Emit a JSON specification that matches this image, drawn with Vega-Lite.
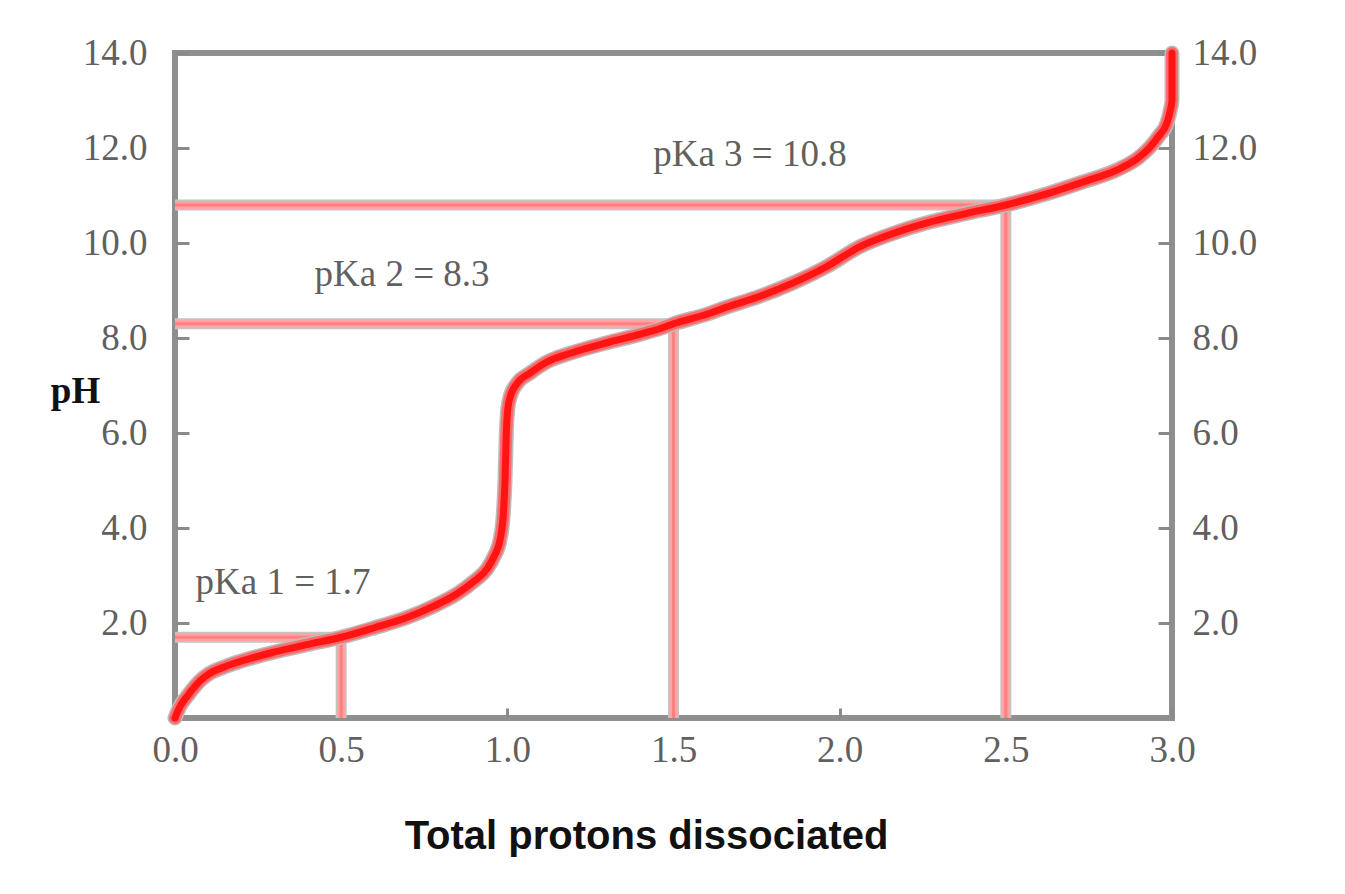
{
  "$schema": "https://vega.github.io/schema/vega-lite/v6.json",
  "width": 997,
  "height": 665,
  "autosize": {"type": "none"},
  "padding": {"left": 175, "top": 53, "right": 173, "bottom": 176},
  "background": "white",
  "config": {
    "view": {"stroke": "#8f8f8f", "strokeWidth": 6},
    "axis": {
      "domain": false,
      "grid": false,
      "tickColor": "#8a8a8a",
      "tickWidth": 3,
      "labelFont": "Liberation Serif",
      "labelFontSize": 37,
      "labelColor": "#606060",
      "titleFont": "Liberation Serif",
      "titleColor": "#111111"
    }
  },
  "datasets": {
    "curve": [
      {"i": 0, "x": 0.0, "pH": 0.0},
      {"i": 1, "x": 0.01, "pH": 0.17},
      {"i": 2, "x": 0.02, "pH": 0.3},
      {"i": 3, "x": 0.036, "pH": 0.45},
      {"i": 4, "x": 0.05, "pH": 0.58},
      {"i": 5, "x": 0.075, "pH": 0.78},
      {"i": 6, "x": 0.1, "pH": 0.92},
      {"i": 7, "x": 0.15, "pH": 1.08},
      {"i": 8, "x": 0.2, "pH": 1.2},
      {"i": 9, "x": 0.3, "pH": 1.39},
      {"i": 10, "x": 0.4, "pH": 1.55},
      {"i": 11, "x": 0.5, "pH": 1.7},
      {"i": 12, "x": 0.6, "pH": 1.9},
      {"i": 13, "x": 0.7, "pH": 2.12},
      {"i": 14, "x": 0.78, "pH": 2.36},
      {"i": 15, "x": 0.85, "pH": 2.62},
      {"i": 16, "x": 0.9, "pH": 2.88},
      {"i": 17, "x": 0.94, "pH": 3.15},
      {"i": 18, "x": 0.96, "pH": 3.4},
      {"i": 19, "x": 0.978, "pH": 3.75},
      {"i": 20, "x": 0.988, "pH": 4.3},
      {"i": 21, "x": 0.993, "pH": 5.0},
      {"i": 22, "x": 0.997, "pH": 6.0},
      {"i": 23, "x": 1.0, "pH": 6.4},
      {"i": 24, "x": 1.008, "pH": 6.75},
      {"i": 25, "x": 1.03, "pH": 7.05},
      {"i": 26, "x": 1.068, "pH": 7.26},
      {"i": 27, "x": 1.12, "pH": 7.5},
      {"i": 28, "x": 1.19, "pH": 7.68},
      {"i": 29, "x": 1.3, "pH": 7.9},
      {"i": 30, "x": 1.4, "pH": 8.08},
      {"i": 31, "x": 1.46, "pH": 8.2},
      {"i": 32, "x": 1.5, "pH": 8.3},
      {"i": 33, "x": 1.6, "pH": 8.5},
      {"i": 34, "x": 1.66, "pH": 8.65},
      {"i": 35, "x": 1.76, "pH": 8.88},
      {"i": 36, "x": 1.86, "pH": 9.16},
      {"i": 37, "x": 1.96, "pH": 9.5},
      {"i": 38, "x": 2.06, "pH": 9.92},
      {"i": 39, "x": 2.16, "pH": 10.2},
      {"i": 40, "x": 2.26, "pH": 10.42},
      {"i": 41, "x": 2.38, "pH": 10.62},
      {"i": 42, "x": 2.5, "pH": 10.8},
      {"i": 43, "x": 2.63, "pH": 11.05},
      {"i": 44, "x": 2.73, "pH": 11.28},
      {"i": 45, "x": 2.835, "pH": 11.54},
      {"i": 46, "x": 2.9, "pH": 11.8},
      {"i": 47, "x": 2.934, "pH": 12.02},
      {"i": 48, "x": 2.96, "pH": 12.25},
      {"i": 49, "x": 2.985, "pH": 12.53},
      {"i": 50, "x": 2.995, "pH": 12.8},
      {"i": 51, "x": 3.0, "pH": 13.0},
      {"i": 52, "x": 3.0, "pH": 14.0}
    ],
    "refs": [
      {"x": 0.0, "x2": 0.5, "pH": 1.7, "pH2": 1.7},
      {"x": 0.5, "x2": 0.5, "pH": 0.0, "pH2": 1.7},
      {"x": 0.0, "x2": 1.5, "pH": 8.3, "pH2": 8.3},
      {"x": 1.5, "x2": 1.5, "pH": 0.0, "pH2": 8.3},
      {"x": 0.0, "x2": 2.5, "pH": 10.8, "pH2": 10.8},
      {"x": 2.5, "x2": 2.5, "pH": 0.0, "pH2": 10.8}
    ],
    "labels": [
      {"x": 0.325, "pH": 2.84, "label": "pKa 1 = 1.7"},
      {"x": 0.683, "pH": 9.33, "label": "pKa 2 = 8.3"},
      {"x": 1.73, "pH": 11.85, "label": "pKa 3 = 10.8"}
    ]
  },
  "encoding": {
    "x": {
      "field": "x", "type": "quantitative",
      "scale": {"domain": [0, 3], "nice": false, "zero": false},
      "axis": {
        "orient": "bottom",
        "values": [0, 0.5, 1, 1.5, 2, 2.5, 3],
        "format": ".1f",
        "tickSize": -10,
        "labelPadding": 42,
        "labelBaseline": "middle",
        "labelFlush": false,
        "title": "Total protons dissociated",
        "titleFont": "Liberation Sans",
        "titleFontWeight": "bold",
        "titleFontSize": 40,
        "titleX": 471,
        "titleY": 130,
        "titleAlign": "center",
        "titleBaseline": "alphabetic"
      }
    }
  },
  "layer": [
    {
      "data": {"name": "refs"},
      "mark": {"type": "rule", "color": "#c4c4c4", "strokeWidth": 11},
      "encoding": {
        "x2": {"field": "x2"},
        "y": {
          "field": "pH", "type": "quantitative",
          "scale": {"domain": [0, 14], "nice": false},
          "axis": {
            "values": [2, 4, 6, 8, 10, 12, 14],
            "format": ".1f",
            "orient": "left",
            "tickSize": -14,
            "labelPadding": 42,
            "labelFlush": false,
            "title": "pH",
            "titleFontWeight": "bold",
            "titleFontSize": 37,
            "titleAngle": 0,
            "titleX": -100,
            "titleY": 349,
            "titleAlign": "center",
            "titleBaseline": "alphabetic"
          }
        },
        "y2": {"field": "pH2"}
      }
    },
    {
      "data": {"name": "refs"},
      "mark": {"type": "rule", "color": "#ffa3a3", "strokeWidth": 8},
      "encoding": {
        "x2": {"field": "x2"},
        "y": {"field": "pH", "type": "quantitative", "scale": {"domain": [0, 14], "nice": false}, "axis": null},
        "y2": {"field": "pH2"}
      }
    },
    {
      "data": {"name": "refs"},
      "mark": {"type": "rule", "color": "#ff8080", "strokeWidth": 3},
      "encoding": {
        "x2": {"field": "x2"},
        "y": {"field": "pH", "type": "quantitative", "scale": {"domain": [0, 14], "nice": false}, "axis": null},
        "y2": {"field": "pH2"}
      }
    },
    {
      "data": {"name": "curve"},
      "mark": {"type": "line", "color": "#bdbdbd", "strokeWidth": 15, "interpolate": "monotone", "strokeCap": "round"},
      "encoding": {
        "y": {"field": "pH", "type": "quantitative", "scale": {"domain": [0, 14], "nice": false}, "axis": null},
        "order": {"field": "i"}
      }
    },
    {
      "data": {"name": "curve"},
      "mark": {"type": "line", "color": "#ff6a6a", "strokeWidth": 12, "interpolate": "monotone", "strokeCap": "round"},
      "encoding": {
        "y": {"field": "pH", "type": "quantitative", "scale": {"domain": [0, 14], "nice": false}, "axis": null},
        "order": {"field": "i"}
      }
    },
    {
      "data": {"name": "curve"},
      "mark": {"type": "line", "color": "#ff1414", "strokeWidth": 7, "interpolate": "monotone", "strokeCap": "round"},
      "encoding": {
        "y": {"field": "pH", "type": "quantitative", "scale": {"domain": [0, 14], "nice": false}, "axis": null},
        "order": {"field": "i"}
      }
    },
    {
      "data": {"name": "labels"},
      "mark": {"type": "text", "font": "Liberation Serif", "fontSize": 37, "color": "#606060", "align": "center", "baseline": "middle"},
      "encoding": {
        "y": {
          "field": "pH", "type": "quantitative",
          "scale": {"domain": [0, 14], "nice": false},
          "axis": {
            "orient": "right",
            "values": [2, 4, 6, 8, 10, 12, 14],
            "format": ".1f",
            "tickSize": -14,
            "labelPadding": 34,
            "labelFlush": false,
            "title": null
          }
        },
        "text": {"field": "label"}
      }
    }
  ],
  "resolve": {"scale": {"y": "independent"}}
}
